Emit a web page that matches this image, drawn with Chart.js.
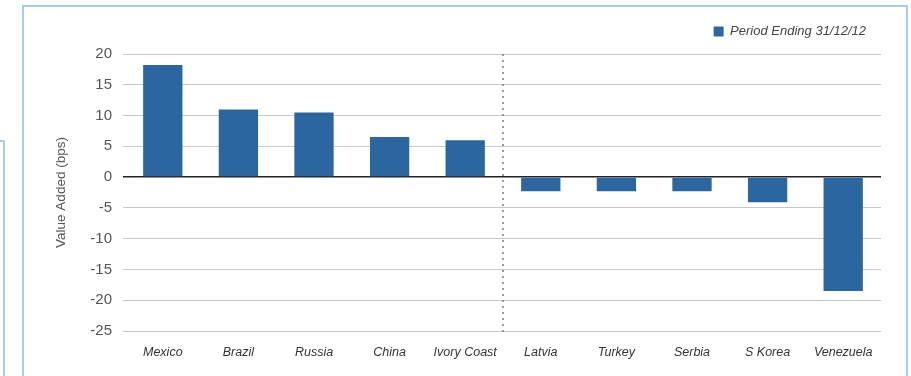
<!DOCTYPE html>
<html>
<head>
<meta charset="utf-8">
<script src="https://cdn.jsdelivr.net/npm/chart.js@4"></script>
<style>
  html, body { margin: 0; padding: 0; background: #fff; }
  #wrap { position: relative; width: 911px; height: 376px; overflow: hidden; }
  .frame { position: absolute; left: 22px; top: 5px; width: 886px; height: 400px;
           border: 2px solid #a6cdee; box-sizing: border-box; }
  .side { position: absolute; left: -20px; top: 140px; width: 25px; height: 300px;
          border: 2px solid #a6cdee; box-sizing: border-box; }
  canvas { position: absolute; left: 0; top: 0; }
</style>
</head>
<body>
<div id="wrap">
  <div class="side"></div>
  <div class="frame"></div>
  <canvas id="chart" width="911" height="376"></canvas>
</div>
<script>
// categories and values (bps)
const countries = ['Mexico', 'Brazil', 'Russia', 'China', 'Ivory Coast',
                   'Latvia', 'Turkey', 'Serbia', 'S Korea', 'Venezuela'];
const valueAdded = [18.2, 11.0, 10.5, 6.5, 6.0, -2.3, -2.3, -2.3, -4.1, -18.5];
const seriesLabel = 'Period Ending 31/12/12';
const yMin = -25, yMax = 20, yStep = 5;

const barColor = '#2b679e';

// dotted divider between the outperformers and underperformers
const dividerPlugin = {
  id: 'divider',
  afterDatasetsDraw(chart) {
    const { ctx, chartArea, scales } = chart;
    const x = scales.x.getPixelForValue(4.5);
    ctx.save();
    ctx.strokeStyle = '#7a7a7a';
    ctx.lineWidth = 1.5;
    ctx.setLineDash([2, 4]);
    ctx.beginPath();
    ctx.moveTo(x, chartArea.top);
    ctx.lineTo(x, chartArea.bottom + 4);
    ctx.stroke();
    ctx.restore();
  }
};

// a bit more room between legend and plot
const legendGap = {
  id: 'legendGap',
  beforeInit(chart) {
    const fit = chart.legend.fit;
    chart.legend.fit = function () {
      fit.bind(chart.legend)();
      this.height += 6;
    };
  }
};

new Chart(document.getElementById('chart').getContext('2d'), {
  type: 'bar',
  data: {
    labels: countries,
    datasets: [{
      label: seriesLabel,
      data: valueAdded,
      backgroundColor: barColor,
      borderWidth: 0,
      barPercentage: 0.52,
      categoryPercentage: 1
    }]
  },
  options: {
    responsive: false,
    animation: false,
    layout: { padding: { left: 49, right: 30, top: 10, bottom: 0 } },
    plugins: {
      tooltip: { enabled: false },
      legend: {
        position: 'top',
        align: 'end',
        labels: {
          boxWidth: 10,
          boxHeight: 10,
          padding: 15,
          color: '#444',
          font: { family: 'Liberation Sans', size: 13, style: 'italic' }
        }
      }
    },
    scales: {
      x: {
        grid: { display: false, drawTicks: false },
        border: { display: false },
        ticks: {
          padding: 14,
          color: '#333',
          maxRotation: 0,
          autoSkip: false,
          font: { family: 'Liberation Sans', size: 12.5, style: 'italic' }
        },
        afterFit(scale) { scale.height = 45; }
      },
      y: {
        min: yMin,
        max: yMax,
        border: { display: false },
        grid: {
          drawTicks: true,
          tickLength: 2,
          color: ctx => ctx.tick && ctx.tick.value === 0 ? '#222' : '#c8c8c8',
          lineWidth: ctx => ctx.tick && ctx.tick.value === 0 ? 1.5 : 1
        },
        ticks: {
          stepSize: yStep,
          padding: 11,
          color: '#555',
          font: { family: 'Liberation Sans', size: 15 }
        },
        title: {
          display: true,
          text: 'Value Added (bps)',
          color: '#555',
          font: { family: 'Liberation Sans', size: 13.5 }
        },
        afterFit(scale) { scale.width = 76; }
      }
    }
  },
  plugins: [dividerPlugin, legendGap]
});
</script>
</body>
</html>
